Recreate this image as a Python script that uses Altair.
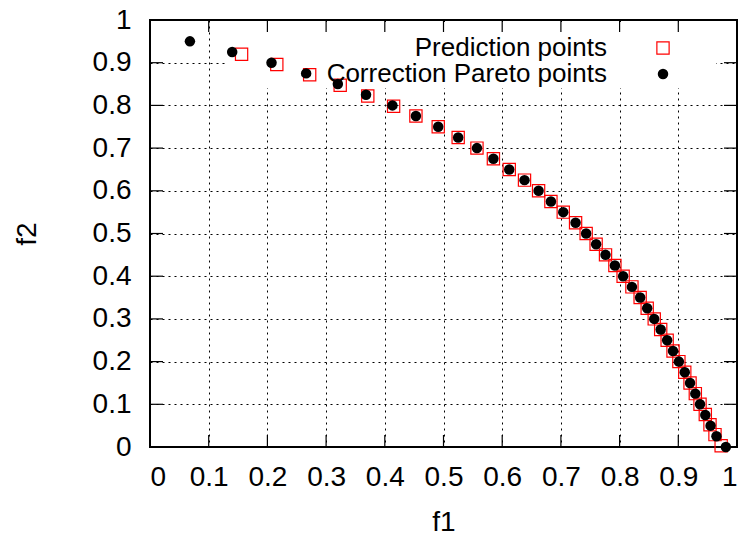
import altair as alt
import pandas as pd

# Corrected Pareto front (f1, f2)
f1_pareto = [0.068, 0.140, 0.207, 0.266, 0.320, 0.368, 0.413, 0.453, 0.491, 0.525,
             0.557, 0.585, 0.612, 0.638, 0.662, 0.683, 0.704, 0.725, 0.743, 0.760,
             0.776, 0.792, 0.806, 0.821, 0.835, 0.847, 0.859, 0.870, 0.881, 0.891,
             0.901, 0.911, 0.920, 0.929, 0.937, 0.946, 0.955, 0.965, 0.981]
f2_pareto = [0.950, 0.925, 0.900, 0.875, 0.850, 0.825, 0.800, 0.775, 0.750, 0.725,
             0.700, 0.675, 0.650, 0.625, 0.600, 0.575, 0.550, 0.525, 0.500, 0.475,
             0.450, 0.425, 0.400, 0.375, 0.350, 0.325, 0.300, 0.275, 0.250, 0.225,
             0.200, 0.175, 0.150, 0.125, 0.100, 0.075, 0.050, 0.025, 0.000]

# Predicted points (f1, f2)
f1_pred = [0.156, 0.216, 0.272, 0.324, 0.371, 0.415, 0.453, 0.491, 0.525,
           0.557, 0.585, 0.612, 0.638, 0.662, 0.683, 0.704, 0.725, 0.743, 0.760,
           0.776, 0.792, 0.806, 0.821, 0.835, 0.847, 0.859, 0.870, 0.881, 0.891,
           0.901, 0.911, 0.920, 0.929, 0.937, 0.946, 0.954, 0.9625, 0.973]
f2_pred = [0.920, 0.896, 0.872, 0.847, 0.822, 0.798, 0.775, 0.750, 0.725,
           0.700, 0.675, 0.650, 0.625, 0.600, 0.575, 0.550, 0.525, 0.500, 0.475,
           0.450, 0.425, 0.400, 0.375, 0.350, 0.325, 0.300, 0.275, 0.250, 0.225,
           0.200, 0.175, 0.150, 0.125, 0.100, 0.076, 0.052, 0.029, 0.003]

tick_values = [0, 0.1, 0.2, 0.3, 0.4, 0.5, 0.6, 0.7, 0.8, 0.9, 1]
legend_labels = ["Prediction points", "Correction Pareto points"]

FONT = "Liberation Sans"
FS_AXIS = 28
FS_KEY = 26
W, H = 587, 427

pareto = pd.DataFrame({"f1": f1_pareto, "f2": f2_pareto})
pred = pd.DataFrame({"f1": f1_pred, "f2": f2_pred})
ticks = pd.DataFrame({"f1": tick_values, "f2": tick_values})

xs = alt.Scale(domain=[0, 1], nice=False, zero=False)
ys = alt.Scale(domain=[0, 1], nice=False, zero=False)

grid_kw = dict(grid=True, gridColor="black", gridDash=[2, 4], gridWidth=1,
               gridOpacity=1, domain=False, ticks=False, format="~g",
               labelFont=FONT, labelFontSize=FS_AXIS, labelColor="black",
               titleFont=FONT, titleFontSize=FS_AXIS, titleColor="black",
               titleFontWeight="normal")

x_axis = alt.Axis(values=tick_values, labelPadding=16, title="f1",
                  titleX=W / 2, titleY=75, titleBaseline="middle", **grid_kw)
y_axis = alt.Axis(values=tick_values, labelPadding=19, title="f2",
                  titleX=-123, titleY=H / 2, titleAngle=-90,
                  titleAlign="center", titleBaseline="middle", **grid_kw)

X = alt.X("f1:Q", scale=xs, axis=x_axis)
Y = alt.Y("f2:Q", scale=ys, axis=y_axis)

# Axes with grid, carried by an invisible layer
axes = alt.Chart(pareto).mark_point(opacity=0).encode(x=X, y=Y)

# Blank the grid behind the key
key_bg = alt.Chart(pareto).mark_rect(color="white").encode(
    x=alt.value(75), x2=alt.value(566), y=alt.value(2), y2=alt.value(68)
)

# Inward tick marks on all four sides
rule = dict(color="black", strokeWidth=1.2)
tick_bottom = alt.Chart(ticks).mark_rule(**rule).encode(
    x=X, y=alt.value(H), y2=alt.value(H - 12))
tick_top = alt.Chart(ticks).mark_rule(**rule).encode(
    x=X, y=alt.value(0), y2=alt.value(12))
tick_left = alt.Chart(ticks).mark_rule(**rule).encode(
    y=Y, x=alt.value(0), x2=alt.value(13))
tick_right = alt.Chart(ticks).mark_rule(**rule).encode(
    y=Y, x=alt.value(W), x2=alt.value(W - 13))

squares = alt.Chart(pred).mark_point(
    shape="square", filled=False, color="#ff0000", size=150, strokeWidth=1.2, opacity=1
).encode(x=X, y=Y)

dots = alt.Chart(pareto).mark_circle(color="black", size=110, opacity=1).encode(x=X, y=Y)

# Key: labels right-aligned, symbols to their right
key_df = pd.DataFrame({"label": legend_labels})
text_kw = dict(align="right", baseline="middle", font=FONT, fontSize=FS_KEY, color="black")
key_label1 = alt.Chart(key_df.iloc[[0]]).mark_text(**text_kw).encode(
    text="label:N", x=alt.value(457), y=alt.value(28))
key_label2 = alt.Chart(key_df.iloc[[1]]).mark_text(**text_kw).encode(
    text="label:N", x=alt.value(457), y=alt.value(54))
key_square = alt.Chart(key_df.iloc[[0]]).mark_point(
    shape="square", filled=False, color="#ff0000", size=150, strokeWidth=1.2, opacity=1
).encode(x=alt.value(513), y=alt.value(28))
key_dot = alt.Chart(key_df.iloc[[1]]).mark_circle(
    color="black", size=110, opacity=1
).encode(x=alt.value(513), y=alt.value(54))

chart = alt.layer(
    axes, key_bg, tick_bottom, tick_top, tick_left, tick_right,
    squares, dots, key_label1, key_label2, key_square, key_dot
).properties(
    width=W, height=H,
    autosize=alt.AutoSizeParams(type="none"),
    padding={"left": 150, "top": 20, "right": 11, "bottom": 95},
    background="white",
).configure_view(stroke="black", strokeWidth=2)

chart.save("out.html", embed_options={"renderer": "svg", "actions": False})
